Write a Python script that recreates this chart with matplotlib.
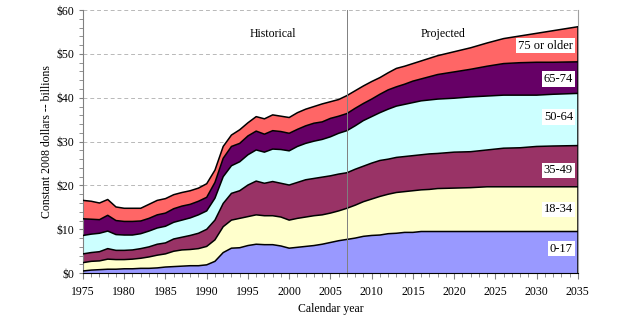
import matplotlib
matplotlib.use("Agg")
from matplotlib import pyplot as plt
from matplotlib.ticker import MultipleLocator, FuncFormatter
import numpy as np

plt.rcParams['font.family'] = ['Liberation Serif', 'DejaVu Serif']

years = [1975, 1976, 1977, 1978, 1979, 1980, 1981, 1982, 1983, 1984, 1985,
         1986, 1987, 1988, 1989, 1990, 1991, 1992, 1993, 1994, 1995, 1996,
         1997, 1998, 1999, 2000, 2001, 2002, 2003, 2004, 2005, 2006, 2007,
         2008, 2009, 2010, 2011, 2012, 2013, 2014, 2015, 2016, 2017, 2018,
         2020, 2022, 2024, 2026, 2028, 2030, 2032, 2035]

# cumulative tops of each age group (billions, constant 2008 dollars)
top_0_17 = [0.5, 0.7, 0.8, 0.9, 0.9, 1.0, 1.0, 1.1, 1.1, 1.2, 1.4,
            1.5, 1.6, 1.7, 1.7, 1.9, 2.7, 4.7, 5.7, 5.8, 6.3, 6.6,
            6.5, 6.5, 6.2, 5.7, 5.9, 6.1, 6.3, 6.6, 7.0, 7.4, 7.7,
            8.0, 8.4, 8.6, 8.7, 9.0, 9.1, 9.3, 9.3, 9.5, 9.5, 9.5,
            9.5, 9.5, 9.5, 9.5, 9.5, 9.5, 9.5, 9.5]
top_18_34 = [2.4, 2.7, 2.8, 3.2, 3.1, 3.1, 3.2, 3.4, 3.7, 4.1, 4.4,
             5.0, 5.3, 5.4, 5.6, 6.1, 7.6, 10.6, 12.1, 12.5, 12.9, 13.3,
             13.1, 13.1, 12.8, 12.1, 12.5, 12.8, 13.1, 13.3, 13.7, 14.2, 14.8,
             15.5, 16.3, 16.9, 17.5, 18.0, 18.4, 18.6, 18.8, 19.0, 19.1, 19.3,
             19.4, 19.5, 19.7, 19.7, 19.7, 19.7, 19.7, 19.7]
top_35_49 = [4.4, 4.7, 4.9, 5.6, 5.2, 5.2, 5.3, 5.6, 6.0, 6.6, 6.9,
             7.8, 8.2, 8.6, 9.1, 10.0, 12.1, 15.9, 18.2, 18.8, 20.1, 21.0,
             20.5, 20.9, 20.5, 20.1, 20.7, 21.3, 21.6, 21.9, 22.2, 22.6, 22.9,
             23.7, 24.4, 25.1, 25.7, 26.0, 26.4, 26.6, 26.8, 27.0, 27.2, 27.3,
             27.6, 27.7, 28.1, 28.5, 28.6, 28.9, 29.0, 29.1]
top_50_64 = [8.6, 8.9, 9.1, 9.6, 8.8, 8.7, 8.7, 9.0, 9.6, 10.3, 10.7,
             11.6, 12.1, 12.6, 13.3, 14.2, 17.1, 22.0, 24.5, 25.4, 27.0, 28.1,
             27.6, 28.3, 28.2, 27.9, 28.9, 29.6, 30.1, 30.5, 31.1, 31.9, 32.5,
             33.6, 34.8, 35.7, 36.6, 37.4, 38.1, 38.5, 38.9, 39.3, 39.5, 39.7,
             39.9, 40.2, 40.4, 40.6, 40.6, 40.6, 40.8, 41.0]
top_65_74 = [12.4, 12.3, 12.2, 13.2, 12.0, 11.8, 11.8, 11.9, 12.5, 13.3, 13.7,
             14.7, 15.3, 15.7, 16.4, 17.3, 20.7, 26.2, 28.9, 29.6, 31.3, 32.4,
             31.7, 32.5, 32.3, 31.9, 32.8, 33.6, 34.2, 34.5, 35.3, 35.8, 36.4,
             37.6, 38.7, 39.7, 40.8, 41.8, 42.5, 43.1, 43.8, 44.3, 44.8, 45.3,
             45.9, 46.5, 47.2, 47.8, 48.0, 48.1, 48.1, 48.2]
top_75_up = [16.6, 16.4, 16.0, 16.8, 15.1, 14.8, 14.8, 14.8, 15.7, 16.6, 17.0,
             17.9, 18.4, 18.8, 19.4, 20.4, 23.5, 28.9, 31.5, 32.7, 34.3, 35.7,
             35.2, 36.1, 35.8, 35.5, 36.6, 37.4, 38.0, 38.6, 39.1, 39.6, 40.5,
             41.6, 42.7, 43.7, 44.6, 45.7, 46.7, 47.2, 47.8, 48.4, 49.0, 49.6,
             50.5, 51.4, 52.5, 53.5, 54.1, 54.7, 55.3, 56.2]

groups = ['0-17', '18-34', '35-49', '50-64', '65-74', '75 or older']
tops = [top_0_17, top_18_34, top_35_49, top_50_64, top_65_74, top_75_up]
colors = ['#9999FF', '#FFFFCC', '#993366', '#CCFFFF', '#660066', '#FF6666']
label_y = [5.6, 14.6, 23.5, 35.6, 44.3, 51.9]

fig = plt.figure(figsize=(6.24, 3.36), dpi=100)
ax = fig.add_axes([0.133, 0.187, 0.793, 0.783])

x = np.array(years)
prev = np.zeros(len(years))
for name, top, col in zip(groups, tops, colors):
    top = np.array(top)
    ax.fill_between(x, prev, top, facecolor=col, edgecolor='none', zorder=2)
    ax.plot(x, top, color='black', lw=1.1, zorder=3)
    prev = top
ax.plot([2035, 2035], [0, top_75_up[-1]], color='black', lw=1.1, zorder=3)

for name, yv in zip(groups, label_y):
    ax.text(2034.4, yv, name, ha='right', va='center', fontsize=9, zorder=5,
            bbox=dict(facecolor='white', edgecolor='none', pad=1.2))

ax.axvline(2007, color='#808080', lw=0.7, zorder=4)
ax.text(1998, 54.5, 'Historical', ha='center', va='center', fontsize=8.5)
ax.text(2018.6, 54.5, 'Projected', ha='center', va='center', fontsize=8.5)

ax.set_xlim(1975, 2035)
ax.set_ylim(0, 60)
ax.yaxis.set_major_locator(MultipleLocator(10))
ax.yaxis.set_minor_locator(MultipleLocator(2))
ax.xaxis.set_major_locator(MultipleLocator(5))
ax.xaxis.set_minor_locator(MultipleLocator(1))
ax.yaxis.set_major_formatter(FuncFormatter(lambda v, p: '$%d' % v))
ax.grid(axis='y', which='major', color='#B8B8B8', ls=(0, (4, 3)), lw=0.7, zorder=1)

ax.spines['top'].set_visible(False)
ax.spines['right'].set_color('#A0A0A0')
ax.spines['left'].set_color('#808080')
ax.spines['bottom'].set_color('black')
ax.tick_params(axis='both', which='both', direction='out', labelsize=8.5,
               color='#808080', length=3)
ax.tick_params(axis='x', which='major', length=4, pad=5)

ax.set_xlabel('Calendar year', fontsize=8.5, labelpad=4)
ax.set_ylabel('Constant 2008 dollars -- billions', fontsize=8.5, labelpad=2)

fig.savefig('out.png', dpi=100)
